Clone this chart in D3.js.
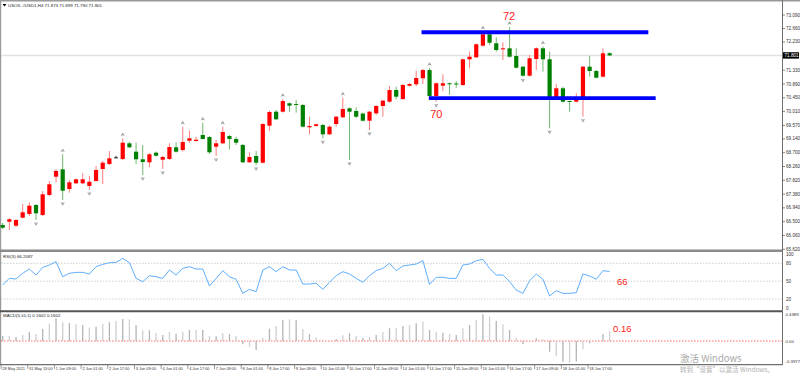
<!DOCTYPE html>
<html>
<head>
<meta charset="utf-8">
<script src="https://cdn.jsdelivr.net/npm/d3@7"></script>
<style>
	body { margin: 0; background: #fff; }
	svg { display: block; font-family: "Liberation Sans", Arial, sans-serif; }
</style>
</head>
<body>
<svg id="chart" width="800" height="375"></svg>
<script>
"use strict";

// USOIL H4 candles
const open = [66.395, 66.500, 66.373, 66.628, 66.746, 67.033, 66.714, 67.352, 67.935, 68.171,
	67.543, 67.724, 67.724, 67.638, 67.798, 68.180, 68.340, 68.553, 68.499, 68.999,
	68.732, 68.490, 68.394, 68.700, 68.477, 68.499, 68.872, 68.786, 69.082, 69.073,
	69.264, 69.200, 68.891, 68.999, 69.232, 69.137, 68.946, 68.394, 68.595, 68.381,
	69.561, 70.007, 70.007, 70.275, 70.252, 70.221, 69.510, 69.551, 69.583, 69.286,
	69.615, 69.829, 70.115, 70.029, 69.948, 69.720, 69.956, 70.189, 70.326, 70.699,
	70.412, 70.836, 70.881, 71.072, 71.336, 70.508, 70.836, 70.913, 70.906, 70.858,
	71.678, 71.741, 72.111, 72.475, 72.188, 71.996, 72.028, 71.783, 71.442, 71.155,
	71.687, 72.028, 71.678, 70.434, 70.753, 70.348, 70.326, 70.380, 71.442, 71.305,
	71.123, 71.873];
const high = [66.459, 66.618, 66.586, 67.064, 67.119, 67.064, 67.479, 67.798, 68.180, 68.649,
	67.830, 67.877, 68.043, 67.957, 68.276, 68.435, 68.754, 68.600, 69.159, 69.050,
	69.019, 68.946, 68.690, 68.738, 68.595, 68.999, 69.032, 69.529, 69.401, 69.210,
	69.656, 69.232, 69.105, 69.529, 69.264, 69.210, 68.977, 68.713, 68.754, 69.647,
	70.039, 70.061, 70.412, 70.300, 70.380, 70.252, 69.848, 69.631, 69.615, 69.567,
	69.870, 70.453, 70.141, 70.147, 69.980, 70.029, 70.221, 70.380, 70.826, 70.804,
	70.890, 70.922, 71.314, 71.368, 71.400, 70.938, 71.199, 70.938, 70.986, 71.703,
	71.920, 72.181, 72.564, 72.500, 72.379, 72.220, 72.707, 72.028, 71.464, 71.815,
	72.054, 72.086, 71.920, 70.890, 70.804, 70.364, 70.594, 71.464, 71.792, 71.336,
	72.028, 71.899];
const low = [66.268, 66.236, 66.331, 66.602, 66.682, 66.554, 66.682, 67.320, 67.756, 67.192,
	67.425, 67.702, 67.702, 67.511, 67.782, 67.702, 68.308, 68.520, 68.467, 68.850,
	68.340, 67.989, 68.234, 68.579, 68.180, 68.467, 68.706, 68.732, 69.019, 69.057,
	69.121, 68.659, 68.595, 68.977, 68.808, 68.946, 68.372, 68.372, 68.308, 68.356,
	69.392, 69.742, 69.981, 70.007, 69.975, 69.503, 69.286, 69.535, 69.159, 69.264,
	69.529, 69.806, 68.467, 69.806, 69.695, 69.424, 69.902, 69.848, 70.300, 70.402,
	70.380, 70.810, 70.826, 70.890, 70.476, 70.326, 70.667, 70.540, 70.763, 70.826,
	71.391, 71.719, 72.086, 72.133, 71.920, 71.655, 71.735, 71.384, 71.129, 71.129,
	71.336, 71.282, 69.478, 70.412, 70.300, 70.007, 70.300, 69.848, 71.123, 71.065,
	71.097, 71.790];
const close = [66.309, 66.577, 66.554, 66.800, 67.010, 66.768, 67.374, 67.693, 68.117, 67.488,
	67.756, 67.852, 67.852, 67.775, 68.149, 68.381, 68.521, 68.553, 69.019, 68.872,
	68.490, 68.404, 68.649, 68.604, 68.563, 68.882, 68.732, 69.041, 69.159, 69.114,
	69.137, 68.713, 68.999, 69.360, 69.137, 69.019, 68.394, 68.563, 68.381, 69.615,
	69.998, 69.765, 70.348, 70.198, 70.230, 69.529, 69.551, 69.605, 69.286, 69.529,
	69.848, 70.093, 70.007, 69.848, 69.720, 70.007, 70.189, 70.358, 70.699, 70.485,
	70.858, 70.890, 71.081, 71.336, 70.507, 70.913, 70.913, 70.881, 70.881, 71.678,
	71.760, 72.156, 72.475, 72.207, 71.974, 72.028, 71.760, 71.410, 71.155, 71.709,
	72.028, 71.678, 70.434, 70.753, 70.326, 70.326, 70.380, 71.442, 71.305, 71.091,
	71.869, 71.801];

// indicators
const rsi = [43.5, 54.7, 53.6, 63.1, 70.4, 60.3, 73.1, 77.1, 82.7, 57.5,
	63.1, 64.8, 64.8, 62.0, 74.3, 78.2, 81.0, 81.6, 88.3, 81.0,
	54.7, 49.1, 59.2, 57.5, 54.7, 68.7, 60.3, 71.5, 74.3, 70.4,
	70.4, 41.8, 54.7, 67.6, 57.5, 53.1, 29.5, 36.2, 32.3, 68.7,
	74.3, 65.9, 74.3, 68.7, 68.7, 45.2, 45.2, 46.3, 36.2, 48.0,
	59.2, 65.9, 62.0, 54.7, 48.0, 59.2, 67.6, 71.5, 79.9, 67.6,
	75.5, 77.1, 78.8, 84.4, 44.6, 56.4, 56.4, 54.7, 54.7, 77.1,
	78.8, 84.4, 86.7, 71.5, 60.3, 60.3, 49.1, 35.1, 29.5, 50.8,
	62.0, 53.1, 25.0, 34.0, 29.5, 29.5, 30.6, 62.0, 58.7, 53.1,
	67.6, 66.2];
const macd = [0.082, 0.082, 0.066, 0.099, 0.154, 0.115, 0.198, 0.286, 0.374, 0.308,
	0.297, 0.275, 0.264, 0.220, 0.236, 0.280, 0.308, 0.330, 0.363, 0.357,
	0.264, 0.176, 0.176, 0.132, 0.099, 0.148, 0.121, 0.154, 0.181, 0.181,
	0.181, 0.082, 0.077, 0.132, 0.115, 0.082, -0.055, -0.093, -0.148, 0.055,
	0.203, 0.247, 0.346, 0.357, 0.346, 0.198, 0.115, 0.060, 0.005, 0.004,
	0.033, 0.093, 0.126, 0.088, 0.049, 0.071, 0.099, 0.154, 0.209, 0.209,
	0.247, 0.264, 0.291, 0.319, 0.181, 0.154, 0.137, 0.115, 0.099, 0.209,
	0.264, 0.346, 0.440, 0.401, 0.330, 0.275, 0.181, 0.055, -0.049, 0.016,
	0.044, 0.027, -0.176, -0.247, -0.341, -0.357, -0.341, -0.137, -0.038, 0.010,
	0.115, 0.160];

// bill williams fractals (bar index)
const fractalUp = [9, 18, 27, 30, 33, 42, 51, 64, 72, 76, 81];
const fractalDown = [5, 9, 13, 21, 24, 32, 38, 48, 52, 55, 65, 78, 82, 87];

// axis labels
const priceTicks = [73.090, 72.660, 72.230, 71.330, 70.890, 70.450, 70.010, 69.570, 69.140,
	68.700, 68.260, 67.820, 67.380, 66.940, 66.500, 66.060, 65.620];
const rsiTicks = [100, 80, 50, 20, 0];
const rsiLevels = [80, 50, 20];
const macdTicks = [0.4389, 0, -0.3977];
const dateLabels = ["28 May 2021", "31 May 13:00", "1 Jun 09:00", "2 Jun 01:00", "2 Jun 17:00",
	"3 Jun 09:00", "4 Jun 01:00", "4 Jun 17:00", "7 Jun 09:00", "8 Jun 01:00", "8 Jun 17:00",
	"9 Jun 09:00", "10 Jun 01:00", "10 Jun 17:00", "11 Jun 09:00", "14 Jun 01:00", "14 Jun 17:00",
	"15 Jun 09:00", "16 Jun 01:00", "16 Jun 17:00", "17 Jun 09:00", "18 Jun 01:00", "18 Jun 17:00"];

// drawn lines (start bar, end bar, price) and notes
const levelPrice = [72.540, 70.440];
const levelFrom = [62.8, 63.9];
const levelTo = [96.8, 97.9];
const noteText = ["72", "70"];
const noteBar = [75.0, 64.1];
const notePrice = [73.058, 69.918];

const header = "USOIL.#USD1,H4  71.873 71.899 71.790 71.801";
const lastPrice = close[close.length - 1];

const N = open.length;
const axisX = 782;
const svg = d3.select("#chart");

// scales
const x = d3.scaleLinear().domain([0, N - 1]).range([2.67, 2.67 + 6.67 * (N - 1)]);
const yPrice = d3.scaleLinear().domain([65.62, 73.09]).range([249.3, 15]);
const yRsi = d3.scaleLinear().domain([0, 100]).range([310.9, 251.4]);
const yMacd = d3.scaleLinear().domain([-0.3977, 0.4389]).range([365.2, 314.3]);

// frame
svg.append("rect").attr("x", 0).attr("y", 0).attr("width", 800).attr("height", 375).attr("fill", "#fff");
svg.append("line").attr("x1", 0).attr("x2", 800).attr("y1", 0.8).attr("y2", 0.8)
	.attr("stroke", "#9a9a9a").attr("stroke-width", 1.6);
svg.append("line").attr("x1", 0.6).attr("x2", 0.6).attr("y1", 0).attr("y2", 365)
	.attr("stroke", "#9a9a9a").attr("stroke-width", 1.2);
svg.append("line").attr("x1", axisX + 0.5).attr("x2", axisX + 0.5).attr("y1", 0).attr("y2", 365)
	.attr("stroke", "#707070");
[[250.8, 2.4, "#8a8a8a"], [311.3, 2, "#555"], [364.6, 1.2, "#707070"]].forEach((s) => {
	svg.append("line").attr("x1", 0).attr("x2", axisX).attr("y1", s[0]).attr("y2", s[0])
		.attr("stroke", s[2]).attr("stroke-width", s[1]);
});

// header
svg.append("path").attr("d", "M2.5,4 L6.5,4 L4.5,6.5 Z").attr("fill", "#000");
svg.append("text").attr("x", 8).attr("y", 7).attr("font-size", 4.4).attr("fill", "#222").text(header);

// bid line
svg.append("line").attr("x1", 1).attr("x2", axisX).attr("y1", yPrice(lastPrice)).attr("y2", yPrice(lastPrice))
	.attr("stroke", "#e2e2e2").attr("stroke-width", 1.4);

// candles
const bars = d3.range(N);
const colorOf = (i) => close[i] > open[i] ? "#ff0000" : (close[i] < open[i] ? "#008000" : "#333");
const wickOf = (i) => close[i] > open[i] ? "#ff7d7d" : (close[i] < open[i] ? "#6fb86f" : "#333");

const candles = svg.append("g");
candles.selectAll("line.wick")
	.data(bars)
	.enter()
	.append("line")
	.attr("class", "wick")
	.attr("x1", (i) => x(i))
	.attr("x2", (i) => x(i))
	.attr("y1", (i) => yPrice(high[i]))
	.attr("y2", (i) => yPrice(low[i]))
	.attr("stroke", wickOf)
	.attr("stroke-width", 1);

candles.selectAll("rect")
	.data(bars)
	.enter()
	.append("rect")
	.attr("x", (i) => x(i) - 2.1)
	.attr("width", 4.2)
	.attr("y", (i) => yPrice(Math.max(open[i], close[i])))
	.attr("height", (i) => Math.max(1, Math.abs(yPrice(open[i]) - yPrice(close[i]))))
	.attr("fill", colorOf);

// fractal arrows
const arrow = (g, xs, ys, up) => {
	const d = up
		? `M${xs - 1.5},${ys + 1.5} L${xs},${ys - 1.2} L${xs + 1.5},${ys + 1.5} M${xs - 0.8},${ys + 0.6} L${xs + 0.8},${ys + 0.6}`
		: `M${xs - 1.5},${ys - 1.5} L${xs},${ys + 1.2} L${xs + 1.5},${ys - 1.5} M${xs},${ys - 0.2} L${xs},${ys - 1.8}`;
	g.append("path").attr("d", d).attr("fill", "none").attr("stroke", "#8c8c8c").attr("stroke-width", 0.8);
};
const fractals = svg.append("g");
fractalUp.forEach((i) => arrow(fractals, x(i), yPrice(high[i]) - 4, true));
fractalDown.forEach((i) => arrow(fractals, x(i), yPrice(low[i]) + 4, false));

// blue support / resistance lines
levelPrice.forEach((p, k) => {
	svg.append("line")
		.attr("x1", x(levelFrom[k])).attr("x2", x(levelTo[k]))
		.attr("y1", yPrice(p)).attr("y2", yPrice(p))
		.attr("stroke", "#0000ff").attr("stroke-width", 3.8);
});
noteText.forEach((t, k) => {
	svg.append("text")
		.attr("x", x(noteBar[k])).attr("y", yPrice(notePrice[k]))
		.attr("dominant-baseline", "central")
		.attr("font-size", 11).attr("fill", "#ff1a1a").text(t);
});

// price axis
const pAxis = svg.append("g").attr("font-size", 4.6).attr("fill", "#333");
priceTicks.forEach((p) => {
	pAxis.append("line").attr("x1", axisX).attr("x2", axisX + 3).attr("y1", yPrice(p)).attr("y2", yPrice(p))
		.attr("stroke", "#555").attr("stroke-width", 0.7);
	pAxis.append("text").attr("x", axisX + 4).attr("y", yPrice(p)).attr("dominant-baseline", "central").text(p.toFixed(3));
});
svg.append("rect").attr("x", axisX + 1).attr("y", yPrice(lastPrice) - 3.2).attr("width", 16).attr("height", 6.4).attr("fill", "#000");
svg.append("text").attr("x", axisX + 2.5).attr("y", yPrice(lastPrice)).attr("dominant-baseline", "central")
	.attr("font-size", 4.6).attr("fill", "#fff").text(lastPrice.toFixed(3));

// RSI panel
svg.append("text").attr("x", 3).attr("y", 257.5).attr("font-size", 4.4).attr("fill", "#222")
	.text("RSI(3) 66.2087");
rsiLevels.forEach((v) => {
	svg.append("line").attr("x1", 1).attr("x2", axisX).attr("y1", yRsi(v)).attr("y2", yRsi(v))
		.attr("stroke", "#c4c4c4").attr("stroke-dasharray", "1.5,1.5").attr("stroke-width", 0.8);
});
svg.append("path")
	.datum(bars)
	.attr("d", d3.line().x((i) => x(i)).y((i) => yRsi(rsi[i])))
	.attr("fill", "none")
	.attr("stroke", "#5eaefc")
	.attr("stroke-width", 1);
rsiTicks.forEach((v) => {
	const ty = Math.min(308, Math.max(254.5, yRsi(v)));
	svg.append("text").attr("x", axisX + 4).attr("y", ty).attr("dominant-baseline", "central")
		.attr("font-size", 4.6).attr("fill", "#333").text(v);
});
svg.append("text").attr("x", x(92.1)).attr("y", yRsi(50)).attr("dominant-baseline", "central")
	.attr("font-size", 9.5).attr("fill", "#ff1a1a").text("66");

// MACD panel
svg.append("text").attr("x", 3).attr("y", 317).attr("font-size", 4.4).attr("fill", "#222")
	.text("MACD(5,10,1) 0.1602 0.1602");
svg.append("line").attr("x1", 1).attr("x2", axisX).attr("y1", yMacd(0)).attr("y2", yMacd(0))
	.attr("stroke", "#ff4040").attr("stroke-dasharray", "1.5,1.5").attr("stroke-width", 0.8);
svg.append("g").selectAll("line")
	.data(bars)
	.enter()
	.append("line")
	.attr("x1", (i) => x(i))
	.attr("x2", (i) => x(i))
	.attr("y1", yMacd(0))
	.attr("y2", (i) => yMacd(macd[i]))
	.attr("stroke", (i) => i % 2 ? "#cfcfcf" : "#b4b4b4")
	.attr("stroke-width", 1.3);
macdTicks.forEach((v) => {
	const ty = Math.min(361.5, Math.max(314.5, yMacd(v)));
	svg.append("text").attr("x", axisX + 3.5).attr("y", ty).attr("dominant-baseline", "central")
		.attr("font-size", 4.3).attr("fill", "#333").text(v === 0 ? "0.00" : v.toFixed(4));
});
svg.append("text").attr("x", x(91.5)).attr("y", yMacd(0.209)).attr("dominant-baseline", "central")
	.attr("font-size", 9.5).attr("fill", "#ff1a1a").text("0.16");

// time axis, one label every 4 bars
const tAxis = svg.append("g").attr("font-size", 3.9).attr("fill", "#333");
dateLabels.forEach((t, k) => {
	const tx = x(k * 4) - 1.6;
	tAxis.append("line").attr("x1", tx).attr("x2", tx).attr("y1", 365).attr("y2", 369)
		.attr("stroke", "#555").attr("stroke-width", 0.6);
	tAxis.append("text").attr("x", tx + 1.3).attr("y", 369.5).text(t);
});

// windows watermark
svg.append("text").attr("x", 680).attr("y", 361.5).attr("font-size", 9.5)
	.attr("font-family", "'Noto Sans CJK SC', sans-serif").attr("fill", "#a8a8a8").text("激活 Windows");
svg.append("text").attr("x", 680).attr("y", 371.5).attr("font-size", 6.5)
	.attr("font-family", "'Noto Sans CJK SC', sans-serif").attr("fill", "#b0b0b0").text("转到“设置”以激活 Windows。");
</script>
</body>
</html>
